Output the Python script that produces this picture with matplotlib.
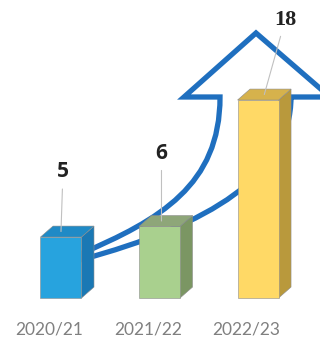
import matplotlib
matplotlib.use("Agg")
import matplotlib.pyplot as plt
import numpy as np
from matplotlib.path import Path
from matplotlib.patches import PathPatch, Polygon

# Les données
seasons = ["2020/21", "2021/22", "2022/23"]
counts = [5, 6, 18]

# Couleurs des barres : face, côté, dessus
front_colors = ["#27a3de", "#a9d08e", "#ffd966"]
side_colors = ["#1a78b4", "#7b9663", "#b9993c"]
top_colors = ["#1f8ac6", "#8ea679", "#d6b24c"]

W, H = 320, 340
fig = plt.figure(figsize=(W / 100, H / 100), dpi=100)

# Fond : la grande flèche courbe, dessinée en pixels
bg = fig.add_axes([0, 0, 1, 1])
bg.set_xlim(0, W)
bg.set_ylim(H, 0)
bg.axis("off")

outer = [(220, 97), (220, 185), (160, 220), (80, 254)]
inner = [(80, 260), (210, 225), (291, 175), (291, 97)]
verts = [(330, 97), (291, 97), inner[2], inner[1], inner[0],
         outer[3], outer[2], outer[1], outer[0], (184, 97), (256, 33), (330, 97)]
codes = [Path.MOVETO, Path.LINETO, Path.CURVE4, Path.CURVE4, Path.CURVE4,
         Path.LINETO, Path.CURVE4, Path.CURVE4, Path.CURVE4,
         Path.LINETO, Path.LINETO, Path.CLOSEPOLY]
bg.add_patch(PathPatch(Path(verts, codes), facecolor="white",
                       edgecolor="#1f6fbf", lw=3.8, joinstyle="miter"))

# Les barres en pseudo 3D
ax = fig.add_axes([0, 0, 1, 1])
ax.patch.set_alpha(0)
ax.axis("off")
ax.set_xlim(-0.619, 2.629)
ax.set_ylim(-4.77, 27.49)

x = np.arange(len(counts))
base = -0.79
width = 0.416
dx, dy = 0.127, 1.04
edge = "#8c8c8c"

ax.bar(x, np.array(counts) - base, bottom=base, width=width,
       color=front_colors, edgecolor=edge, linewidth=0.4, zorder=3)

for i, v in enumerate(counts):
    xl, xr = x[i] - width / 2, x[i] + width / 2
    side = [(xr, base), (xr + dx, base + dy), (xr + dx, v + dy), (xr, v)]
    top = [(xl, v), (xr, v), (xr + dx, v + dy), (xl + dx, v + dy)]
    ax.add_patch(Polygon(side, closed=True, facecolor=side_colors[i],
                         edgecolor=edge, lw=0.4, zorder=2))
    ax.add_patch(Polygon(top, closed=True, facecolor=top_colors[i],
                         edgecolor=edge, lw=0.4, zorder=4))

# Etiquettes des valeurs avec leur trait
anchors = [0.0, 0.02, dx / 2]
label_offsets = [(2, 60), (0, 68), (21, 75)]
label_fonts = [dict(family="Open Sans", size=15),
               dict(family="Open Sans", size=15),
               dict(family="Liberation Serif", size=16)]
for i, v in enumerate(counts):
    ax.annotate(str(v), xy=(x[i] + anchors[i], v + dy / 2),
                xytext=label_offsets[i], textcoords="offset pixels",
                ha="center", va="center", fontweight="bold", color="#222222",
                arrowprops=dict(arrowstyle="-", color="#c0c0c0", lw=0.8,
                                shrinkA=3, shrinkB=0),
                zorder=5, **label_fonts[i])

# Les saisons sous les barres
for i, s in enumerate(seasons):
    ax.text(x[i] - 0.12, 0.03, s, transform=ax.get_xaxis_transform(),
            ha="center", va="center", fontsize=12.5, color="#808080",
            family="Lato")

fig.savefig("out.png", dpi=100)
